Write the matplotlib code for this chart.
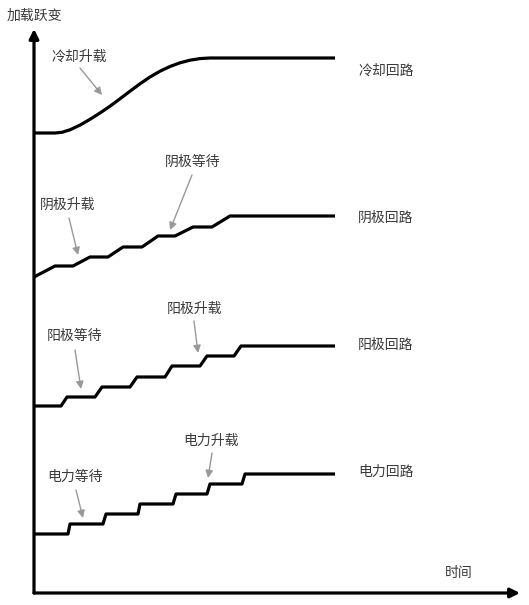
import matplotlib.pyplot as plt

plt.rcParams['font.family'] = ['Noto Sans CJK SC', 'DejaVu Sans']

# time axis units / load units (origin at the axes corner)
cool_x = [0, 21, 28, 36, 46, 56, 66, 76, 86, 96, 106, 116, 126, 136, 146,
          156, 166, 176, 301]
cool_y = [460, 460, 460.7, 463.2, 467.9, 473.7, 480, 486.8, 494.2, 501.8,
          509.2, 516, 521.8, 526.5, 530.2, 532.8, 534.4, 535, 535]

cath_x = [0, 21, 39, 56, 74, 89, 108, 124, 141, 159, 178, 196, 301]
cath_y = [316, 327, 327, 336, 336, 346, 346, 357, 357, 366, 366, 377, 377]

anod_x = [0, 27, 33, 61, 68, 96, 103, 131, 138, 166, 173, 200, 207, 301]
anod_y = [187, 187, 196, 196, 206, 206, 216, 216, 227, 227, 237, 237, 247, 247]

pow_x = [0, 34, 36, 69, 72, 104, 106, 139, 142, 173, 176, 208, 211, 301]
pow_y = [59, 59, 69, 69, 79, 79, 89, 89, 99, 99, 109, 109, 119, 119]

loop_names = ['冷却回路', '阴极回路', '阳极回路', '电力回路']
loop_y = [522, 375, 248, 121]

# (text, text pos, arrow start, arrow end)
notes = [
    ('冷却升载', (45, 536), (46, 525), (68, 498)),
    ('阴极等待', (159, 431), (158, 418), (136, 363)),
    ('阴极升载', (34, 388), (35, 375), (44, 338)),
    ('阳极等待', (40, 257), (41, 243), (47, 204)),
    ('阳极升载', (160, 284), (160, 272), (164, 240)),
    ('电力等待', (41, 116), (42, 103), (49, 75)),
    ('电力升载', (177, 152), (178, 140), (174, 115)),
]

fig = plt.figure(figsize=(5.29, 6.05), dpi=100)
ax = fig.add_axes([34 / 529, 12 / 605, 486 / 529, 564 / 605])
ax.set_xlim(0, 486)
ax.set_ylim(0, 564)
ax.axis('off')

for xs, ys in [(cool_x, cool_y), (cath_x, cath_y), (anod_x, anod_y), (pow_x, pow_y)]:
    ax.plot(xs, ys, color='black', lw=2.3, solid_joinstyle='round',
            solid_capstyle='butt', clip_on=False)

# axes with arrows
ax.annotate('', xy=(0, 564), xytext=(0, 0),
            arrowprops=dict(arrowstyle='-|>', color='black', lw=2.3,
                            mutation_scale=14, shrinkA=0, shrinkB=0))
ax.annotate('', xy=(486, 0), xytext=(0, 0),
            arrowprops=dict(arrowstyle='-|>', color='black', lw=2.3,
                            mutation_scale=14, shrinkA=0, shrinkB=0))

txt = '#3a3a3a'
ax.text(0, 577, '加载跃变', ha='center', va='center', fontsize=10, color=txt, clip_on=False)
ax.text(411, 20, '时间', ha='left', va='center', fontsize=10, color=txt)

for name, y in zip(loop_names, loop_y):
    ax.text(324, y, name, ha='left', va='center', fontsize=10, color=txt)

for label, tp, a0, a1 in notes:
    ax.text(tp[0], tp[1], label, ha='center', va='center', fontsize=10, color=txt)
    ax.annotate('', xy=a1, xytext=a0,
                arrowprops=dict(arrowstyle='-|>', color='#999999', lw=1,
                                mutation_scale=11, shrinkA=0, shrinkB=0))

fig.savefig('out.png', dpi=100, facecolor='white')
